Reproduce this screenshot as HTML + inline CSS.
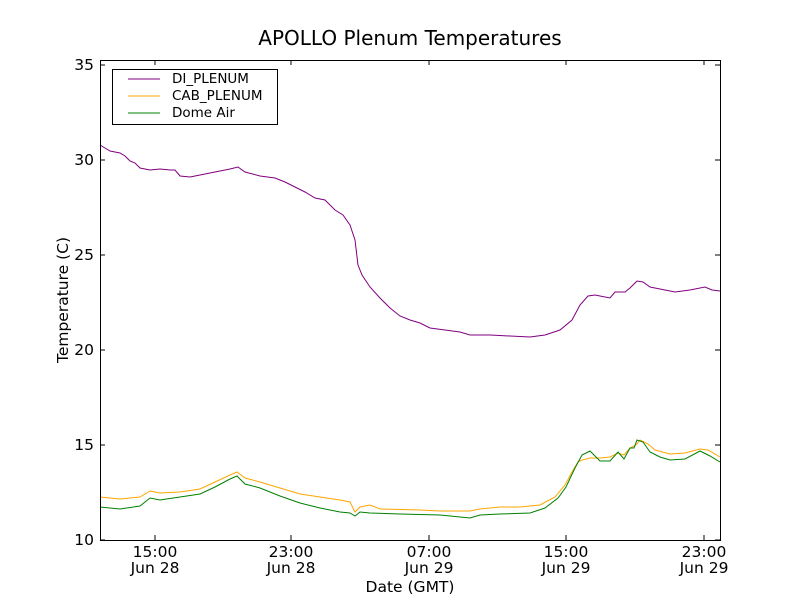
<!DOCTYPE html>
<html><head><style>body{margin:0;background:#fff}</style></head><body>
<svg width="800" height="600" xmlns="http://www.w3.org/2000/svg" font-family="DejaVu Sans, Liberation Sans, sans-serif">
<rect width="800" height="600" fill="#fff"/>
<text x="410" y="45" font-size="20" text-anchor="middle">APOLLO Plenum Temperatures</text>
<g fill="none" stroke-width="1">
<polyline stroke="#800080" points="100,145 105,148 110,151 115,152 120,153 125,156 130,161 135,163 140,168 150,170 160,169 170,170 175,170 180,176 190,177 200,175 215,172 230,169 238,167 245,172 260,176 275,178 285,182 295,187 305,192 315,198 325,200 335,210 343,215 350,225 355,240 358,265 362,275 370,287 380,298 390,308 400,316 410,320 420,323 430,328 445,330 460,332 470,335 490,335 510,336 530,337 545,335 560,330 572,320 580,305 588,296 595,295 600,296 610,298 615,292 625,292 630,288 637,281 643,282 650,287 665,290 675,292 690,290 705,287 712,290 720,291"/>
<polyline stroke="#ffa500" points="100,497 120,499 140,497 150,491 160,493 180,492 200,489 215,482 230,475 237,472 245,478 260,482 280,488 300,494 320,497 340,500 350,502 355,512 360,507 370,505 380,509 420,510 440,511 470,511 480,509 500,507 520,507 540,505 555,497 565,485 572,472 578,462 582,460 590,458 600,458 610,457 618,453 624,455 630,448 636,445 640,440 648,444 655,450 670,454 685,453 700,449 708,450 720,457"/>
<polyline stroke="#008000" points="100,507 120,509 140,506 150,498 160,500 180,497 200,494 215,487 230,479 237,476 245,484 260,488 280,496 300,503 320,508 340,512 350,513 355,516 360,512 370,513 400,514 440,515 470,518 480,515 500,514 530,513 545,508 558,498 566,487 575,468 582,455 590,451 600,461 610,461 618,452 624,459 630,448 634,448 637,440 643,442 650,452 660,457 670,460 685,459 700,451 710,456 720,462"/>
</g>
<rect x="100.5" y="60.5" width="620" height="480" fill="none" stroke="#000"/>
<g stroke="#000">
<path d="M100,540h5M100,445h5M100,350h5M100,255h5M100,160h5M100,65h5M720,540h-5M720,445h-5M720,350h-5M720,255h-5M720,160h-5M720,65h-5"/>
<path d="M155,540v-5M291,540v-5M429,540v-5M566,540v-5M704,540v-5M155,60v5M291,60v5M429,60v5M566,60v5M704,60v5"/>
</g>
<g font-size="15.5" text-anchor="end">
<text x="94" y="545">10</text><text x="94" y="450">15</text><text x="94" y="355">20</text><text x="94" y="260">25</text><text x="94" y="165">30</text><text x="94" y="70">35</text>
</g>
<g font-size="15.5" text-anchor="middle">
<text x="155" y="557">15:00</text><text x="155" y="573">Jun 28</text>
<text x="291" y="557">23:00</text><text x="291" y="573">Jun 28</text>
<text x="429" y="557">07:00</text><text x="429" y="573">Jun 29</text>
<text x="566" y="557">15:00</text><text x="566" y="573">Jun 29</text>
<text x="704" y="557">23:00</text><text x="704" y="573">Jun 29</text>
<text x="410" y="592">Date (GMT)</text>
<text transform="translate(68,300) rotate(-90)">Temperature (C)</text>
</g>
<rect x="112.5" y="69.5" width="165" height="55" fill="#fff" stroke="#000"/>
<line x1="128" y1="79" x2="160" y2="79" stroke="#800080"/>
<line x1="128" y1="96" x2="160" y2="96" stroke="#ffa500"/>
<line x1="128" y1="113" x2="160" y2="113" stroke="#008000"/>
<g font-size="13.5"><text x="172" y="83">DI_PLENUM</text><text x="172" y="100">CAB_PLENUM</text><text x="172" y="117">Dome Air</text></g>
</svg>
</body></html>
